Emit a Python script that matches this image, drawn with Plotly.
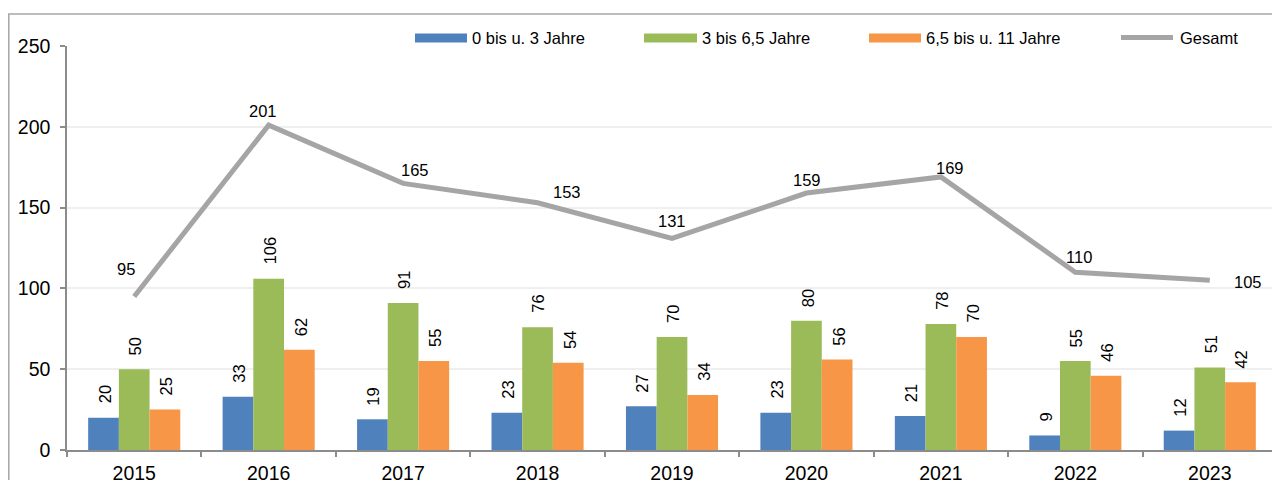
import plotly.graph_objects as go

years = ["2015", "2016", "2017", "2018", "2019", "2020", "2021", "2022", "2023"]
age_0_3 = [20, 33, 19, 23, 27, 23, 21, 9, 12]
age_3_65 = [50, 106, 91, 76, 70, 80, 78, 55, 51]
age_65_11 = [25, 62, 55, 54, 34, 56, 70, 46, 42]
total = [95, 201, 165, 153, 131, 159, 169, 110, 105]

series_names = ["0 bis u. 3 Jahre", "3 bis 6,5 Jahre", "6,5 bis u. 11 Jahre"]
line_name = "Gesamt"
y_ticks = [0, 50, 100, 150, 200, 250]

# styling / label offsets (pixels) - not data
colors = ["#4f81bd", "#9bbb59", "#f79646"]
line_color = "#a5a5a5"
total_label_dx = [-8, -6, 12, 29, 0, 1, 9, 4, 38]
total_label_dy = [-27, -14, -13, -11, -17, -13, -9, -15, 2]

FONT = "Arial, Liberation Sans, sans-serif"
OFF = 8  # default page body margin
W, H = 1280 - OFF, 480 - OFF
L, R, T, B = 67 - OFF, 3, 46 - OFF, 30
PW, PH = W - L - R, H - T - B
BARGAP = 0.315


def px(x):  # page x -> paper
    return (x - OFF - L) / PW


def py(y):  # page y -> paper
    return (H - B - (y - OFF)) / PH


fig = go.Figure()
series = [age_0_3, age_3_65, age_65_11]
for name, vals, col in zip(series_names, series, colors):
    fig.add_trace(go.Bar(x=years, y=vals, name=name, marker_color=col,
                         marker_line_width=0, showlegend=False))

fig.add_trace(go.Scatter(x=years, y=total, name=line_name, mode="lines",
                         line=dict(color=line_color, width=5),
                         showlegend=False))

annotations = []
bw = (1 - BARGAP) / 3
for k, vals in enumerate(series):
    for i, v in enumerate(vals):
        annotations.append(dict(
            x=i + (k - 1) * bw, y=v, xref="x", yref="y", text=str(v),
            showarrow=False, textangle=-90, xanchor="center", yanchor="bottom",
            yshift=12, xshift=1, font=dict(family=FONT, size=16.5, color="#000")))

for i, v in enumerate(total):
    annotations.append(dict(
        x=i, y=v, xref="x", yref="y", text=str(v), showarrow=False,
        xanchor="center", yanchor="middle",
        xshift=total_label_dx[i], yshift=-total_label_dy[i],
        font=dict(family=FONT, size=16.5, color="#000")))

# legend (manual, Excel-like wide swatches)
legend_items = [
    (series_names[0], colors[0], 415, 467, 470),
    (series_names[1], colors[1], 644, 697, 700),
    (series_names[2], colors[2], 869, 921, 924),
]
shapes = []
for name, col, x0, x1, tx in legend_items:
    shapes.append(dict(type="rect", xref="paper", yref="paper",
                       x0=px(x0), x1=px(x1), y0=py(42.5), y1=py(33.5),
                       fillcolor=col, line_width=0, layer="above"))
    annotations.append(dict(x=px(tx), y=py(38), xref="paper", yref="paper",
                            text=name, showarrow=False, xanchor="left",
                            yanchor="middle",
                            font=dict(family=FONT, size=16.5, color="#000")))
shapes.append(dict(type="line", xref="paper", yref="paper",
                   x0=px(1121), x1=px(1173), y0=py(37.5), y1=py(37.5),
                   line=dict(color=line_color, width=5), layer="above"))
annotations.append(dict(x=px(1178), y=py(38), xref="paper", yref="paper",
                        text=line_name, showarrow=False, xanchor="left",
                        yanchor="middle",
                        font=dict(family=FONT, size=16.5, color="#000")))

# outer chart border (extends beyond the visible window)
shapes.append(dict(type="rect", xref="paper", yref="paper",
                   x0=px(8.8), x1=px(1300), y0=py(520), y1=py(14),
                   line=dict(color="#a6a6a6", width=1.5), fillcolor="rgba(0,0,0,0)",
                   layer="above"))

fig.update_layout(
    width=W, height=H,
    margin=dict(l=L, r=R, t=T, b=B, pad=0, autoexpand=False),
    paper_bgcolor="white", plot_bgcolor="white",
    barmode="group", bargap=BARGAP, bargroupgap=0,
    annotations=annotations, shapes=shapes,
    font=dict(family=FONT, color="#000"),
)
fig.update_xaxes(type="category", showline=True, linecolor="#8c8c8c", linewidth=1.5,
                 ticks="outside", tickson="boundaries", ticklen=5, tickwidth=1.5,
                 tickcolor="#8c8c8c", showgrid=False, automargin=False,
                 ticklabelstandoff=5,
                 tickfont=dict(family=FONT, size=19.5, color="#000"))
fig.update_yaxes(range=[0, 250], tickvals=y_ticks, showline=True, linecolor="#8c8c8c",
                 linewidth=1.5, ticks="outside", ticklen=5, tickwidth=1.5,
                 tickcolor="#8c8c8c", gridcolor="#efefef", gridwidth=1.5,
                 zeroline=False, ticklabelstandoff=6, automargin=False,
                 tickfont=dict(family=FONT, size=19.5, color="#000"))

fig.write_html("out.html")
